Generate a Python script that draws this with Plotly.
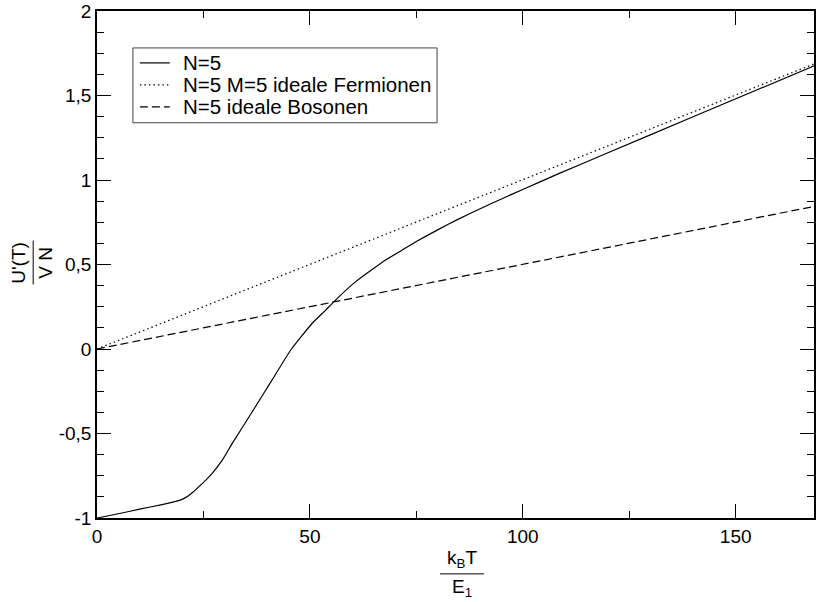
import plotly.graph_objects as go

# N=5 (interacting) curve
x_n5 = [0, 5, 10, 15, 18.5, 20, 21.3, 22.5, 24.0, 25.5, 27.1, 29.5, 31.8, 36.5, 41.2,
        45.5, 50.5, 53.7, 55.6, 60.7, 67.7, 71.6, 75, 80, 85, 90, 95, 100, 108.3,
        120, 140, 168.5]
y_n5 = [-1.0, -0.975, -0.948, -0.922, -0.902, -0.89, -0.872, -0.848, -0.813, -0.777,
        -0.735, -0.655, -0.557, -0.37, -0.18, -0.006, 0.151, 0.23, 0.279, 0.397,
        0.525, 0.584, 0.636, 0.705, 0.77, 0.83, 0.888, 0.944, 1.036, 1.161, 1.374,
        1.676]

# ideal fermions N=5 M=5
x_ferm = [0, 168.5]
y_ferm = [0.0, 1.688]

# ideal bosons N=5
x_bos = [0, 168.5]
y_bos = [0.0, 0.844]

series_names = ["N=5", "N=5 M=5 ideale Fermionen", "N=5 ideale Bosonen"]

y_tickvals = [-1, -0.5, 0, 0.5, 1, 1.5, 2]
y_ticktext = ["-1", "-0,5", "0", "0,5", "1", "1,5", "2"]
x_tickvals = [0, 50, 100, 150]
x_ticktext = ["0", "50", "100", "150"]

FONT = "Arial, Liberation Sans, Helvetica, sans-serif"
FS = 19
LFS = 20.5

dashes = ["solid", "1.5px,3px", "8px,4px"]

fig = go.Figure()
for xs, ys, nm, ds in zip([x_n5, x_ferm, x_bos], [y_n5, y_ferm, y_bos], series_names, dashes):
    fig.add_trace(go.Scatter(x=xs, y=ys, mode="lines", name=nm, showlegend=False,
                             line=dict(color="black", width=1.2, dash=ds, shape="spline",
                                       smoothing=0.4)))

L, R, T, B = 97, 1, 10, 84
W, H = 817, 602
pw = W - L - R
ph = H - T - B

def px(x):
    return (x - L) / pw

def py(y):
    return (H - B - y) / ph

axis_common = dict(
    showline=True, linecolor="black", linewidth=1.5, mirror="allticks",
    ticks="inside", ticklen=14, tickwidth=1, tickcolor="black",
    showgrid=False, zeroline=False, ticklabeloverflow="allow",
    tickfont=dict(family=FONT, size=FS, color="black"),
)

fig.update_layout(
    width=W, height=H,
    margin=dict(l=L, r=R, t=T, b=B, pad=0),
    plot_bgcolor="white", paper_bgcolor="white",
    font=dict(family=FONT, size=FS, color="black"),
    showlegend=False,
    xaxis=dict(range=[0, 168.4], tickvals=x_tickvals, ticktext=x_ticktext,
               minor=dict(ticks="inside", ticklen=7, dtick=25, tick0=0,
                          tickcolor="black", tickwidth=1, showgrid=False),
               **axis_common),
    yaxis=dict(range=[-1, 2], tickvals=y_tickvals, ticktext=y_ticktext,
               minor=dict(ticks="inside", ticklen=7, dtick=0.125, tick0=0,
                          tickcolor="black", tickwidth=1, showgrid=False),
               **axis_common),
)

# custom legend box
fig.add_shape(type="rect", xref="paper", yref="paper",
              x0=px(133), x1=px(438), y0=py(122), y1=py(47),
              line=dict(color="#444444", width=1), fillcolor="white", layer="above")
row_y = [62, 84, 106]
for ry, nm, ds in zip(row_y, series_names, dashes):
    fig.add_shape(type="line", xref="paper", yref="paper",
                  x0=px(140), x1=px(170), y0=py(ry), y1=py(ry),
                  line=dict(color="black", width=1.2, dash=ds), layer="above")
    fig.add_annotation(text=nm, xref="paper", yref="paper",
                       x=px(181), y=py(ry), xanchor="left", yanchor="middle",
                       showarrow=False, font=dict(family=FONT, size=LFS, color="black"))

# x-axis title as a fraction
cx = 463
fig.add_annotation(text="k<sub>B</sub>T", xref="paper", yref="paper",
                   x=px(cx), y=py(559), xanchor="center", yanchor="middle",
                   showarrow=False, font=dict(family=FONT, size=FS, color="black"))
fig.add_shape(type="line", xref="paper", yref="paper",
              x0=px(441), x1=px(485), y0=py(574), y1=py(574),
              line=dict(color="black", width=1))
fig.add_annotation(text="E<sub>1</sub>", xref="paper", yref="paper",
                   x=px(cx), y=py(588), xanchor="center", yanchor="middle",
                   showarrow=False, font=dict(family=FONT, size=FS, color="black"))

# y-axis title as a rotated fraction
cy = 262
fig.add_annotation(text="U'(T)", xref="paper", yref="paper",
                   x=px(18), y=py(cy), xanchor="center", yanchor="middle",
                   textangle=-90, showarrow=False,
                   font=dict(family=FONT, size=FS, color="black"))
fig.add_shape(type="line", xref="paper", yref="paper",
              x0=px(33), x1=px(33), y0=py(240), y1=py(284),
              line=dict(color="black", width=1))
fig.add_annotation(text="V N", xref="paper", yref="paper",
                   x=px(45), y=py(cy), xanchor="center", yanchor="middle",
                   textangle=-90, showarrow=False,
                   font=dict(family=FONT, size=FS, color="black"))

fig.write_html("out.html", config={"displayModeBar": False},
               post_script="document.body.style.margin='0';document.body.style.overflow='hidden';")
